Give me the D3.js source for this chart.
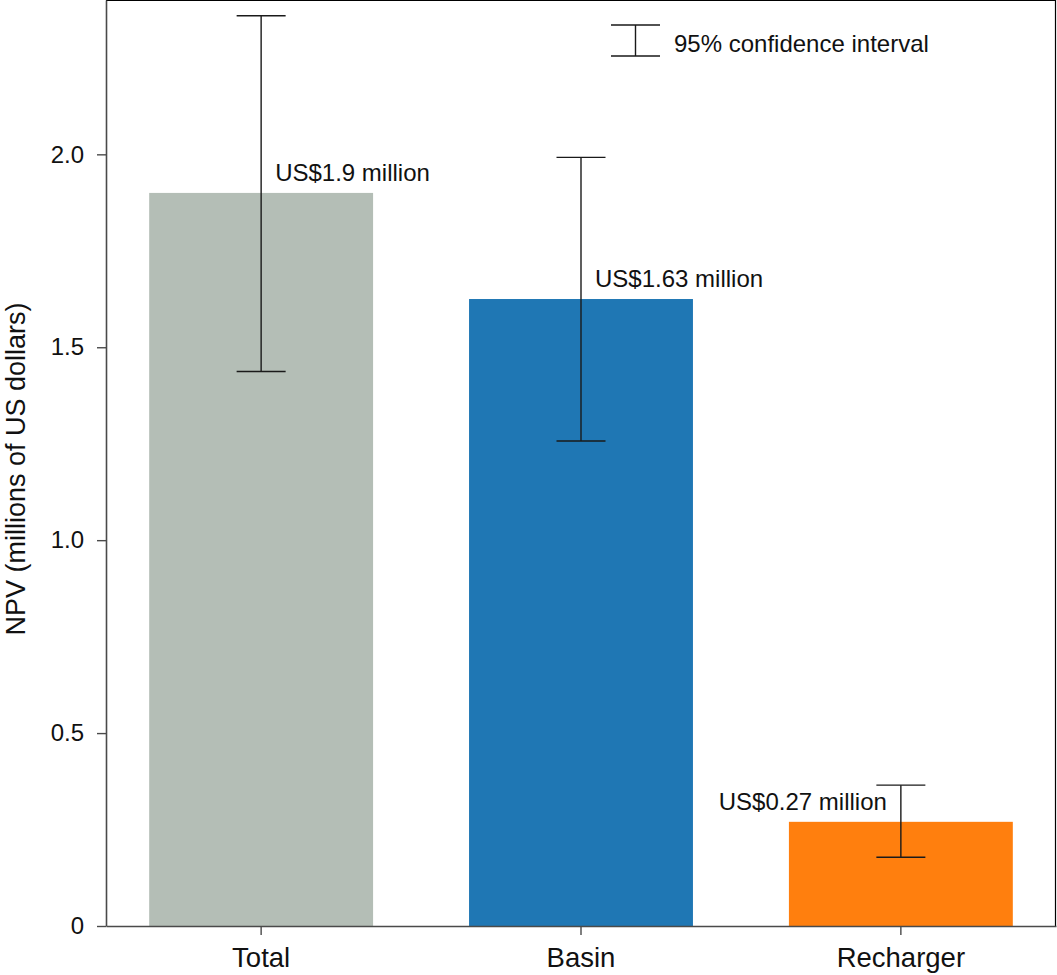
<!doctype html>
<html lang="en">
  <head>
    <meta charset="utf-8">
    <title>NPV bar chart</title>
    <script src="https://d3js.org/d3.v7.min.js"></script>
    <style>
      body { margin: 0; background: white; }
      text { font-family: "Liberation Sans", Arial, sans-serif; fill: #111; }
    </style>
  </head>

  <body>
    <svg width="1057" height="975"></svg>
    <script>
      // data
      var categories = ['Total', 'Basin', 'Recharger'];
      var npv = [1.9, 1.625, 0.27];
      var ciLow = [1.437, 1.257, 0.178];
      var ciHigh = [2.359, 1.992, 0.365];
      var labels = ['US$1.9 million', 'US$1.63 million', 'US$0.27 million'];
      var colors = ['#b4beb6', '#1f77b4', '#ff7f0e'];
      var yTicks = [0, 0.5, 1.0, 1.5, 2.0];

      var svg = d3.select('svg');
      var margin = {top: 0, right: 1, bottom: 49, left: 106};
      var width = 1057 - margin.left - margin.right;
      var height = 975 - margin.top - margin.bottom;

      var g = svg.append('g')
        .attr('transform', 'translate(' + margin.left + ',' + margin.top + ')');

      var x = d3.scaleBand()
        .domain(categories)
        .range([0, width])
        .paddingInner(0.3)
        .paddingOuter(0.135);

      var y = d3.scaleLinear()
        .domain([0, 2.4])
        .range([height, 0]);

      var rows = categories.map(function(c, i) {
        return {cat: c, v: npv[i], lo: ciLow[i], hi: ciHigh[i], label: labels[i], color: colors[i]};
      });

      // bars
      g.selectAll('rect.bar').data(rows).enter()
        .append('rect')
        .attr('class', 'bar')
        .attr('x', function(d){ return x(d.cat); })
        .attr('y', function(d){ return y(d.v); })
        .attr('width', x.bandwidth())
        .attr('height', function(d){ return y(0) - y(d.v); })
        .style('fill', function(d){ return d.color; });

      // error bars
      var cap = 24.5;
      var eb = g.selectAll('g.err').data(rows).enter()
        .append('g')
        .attr('class', 'err')
        .attr('transform', function(d){ return 'translate(' + (x(d.cat) + x.bandwidth() / 2) + ',0)'; })
        .style('stroke', '#1a1a1a')
        .style('stroke-width', 1.4);

      eb.append('line')
        .attr('y1', function(d){ return y(d.lo); })
        .attr('y2', function(d){ return y(d.hi); });
      eb.append('line')
        .attr('x1', -cap).attr('x2', cap)
        .attr('y1', function(d){ return y(d.hi); })
        .attr('y2', function(d){ return y(d.hi); });
      eb.append('line')
        .attr('x1', -cap).attr('x2', cap)
        .attr('y1', function(d){ return y(d.lo); })
        .attr('y2', function(d){ return y(d.lo); });

      // value labels
      g.selectAll('text.val').data(rows).enter()
        .append('text')
        .attr('class', 'val')
        .style('font-size', '24px')
        .attr('text-anchor', function(d, i){ return i === 2 ? 'end' : 'start'; })
        .attr('x', function(d, i){
          var c = x(d.cat) + x.bandwidth() / 2;
          return i === 2 ? c - 14 : c + 14;
        })
        .attr('y', function(d){ return y(d.v) - 12; })
        .text(function(d){ return d.label; });

      // frame (top and right)
      g.append('path')
        .attr('d', 'M0,0.5H' + (width - 0.5) + 'V' + height)
        .style('fill', 'none')
        .style('stroke', '#000')
        .style('stroke-width', 1.2);

      // axes
      var yAxis = g.append('g')
        .call(d3.axisLeft(y).tickValues(yTicks)
          .tickFormat(function(d){ return d === 0 ? '0' : d3.format('.1f')(d); })
          .tickSize(9).tickPadding(13).tickSizeOuter(0));

      var xAxis = g.append('g')
        .attr('transform', 'translate(0,' + height + ')')
        .call(d3.axisBottom(x).tickSize(9).tickPadding(12).tickSizeOuter(0));

      [xAxis, yAxis].forEach(function(a) {
        a.select('.domain').style('stroke', '#4a4a4a').style('stroke-width', 1.6);
        a.selectAll('.tick line').style('stroke', '#4a4a4a').style('stroke-width', 1.4);
      });
      yAxis.selectAll('.tick text')
        .style('font-size', '24px').style('fill', '#111')
        .style('font-family', '"Liberation Sans", Arial, sans-serif');
      xAxis.selectAll('.tick text')
        .style('font-size', '27.5px').style('fill', '#111')
        .style('font-family', '"Liberation Sans", Arial, sans-serif');

      // y title
      svg.append('text')
        .attr('transform', 'translate(25,' + (margin.top + 469) + ') rotate(-90)')
        .attr('text-anchor', 'middle')
        .style('font-size', '27px')
        .text('NPV (millions of US dollars)');

      // legend
      var lg = g.append('g')
        .attr('transform', 'translate(' + (x('Basin') + x.bandwidth() / 2 + 54.5) + ',0)');
      lg.append('path')
        .attr('d', 'M-24.5,25H24.5M0,25V56M-24.5,56H24.5')
        .style('fill', 'none')
        .style('stroke', '#1a1a1a')
        .style('stroke-width', 1.4);
      lg.append('text')
        .attr('x', 38.5)
        .attr('y', 52)
        .style('font-size', '24px')
        .text('95% confidence interval');
    </script>
  </body>
</html>
